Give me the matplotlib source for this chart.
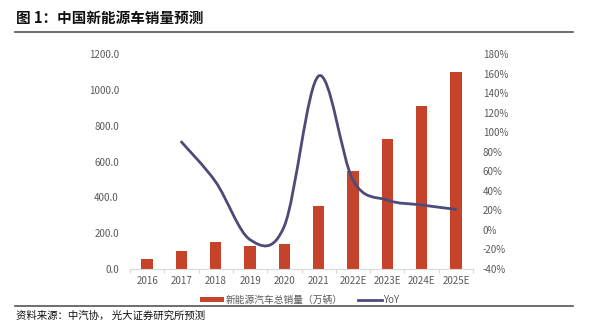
import matplotlib
matplotlib.use("Agg")
import matplotlib.pyplot as plt
from matplotlib.path import Path
from matplotlib.patches import PathPatch
from matplotlib.lines import Line2D
from matplotlib.patches import Patch
import numpy as np

plt.rcParams['font.family'] = ['Noto Sans CJK SC', 'DejaVu Sans']

categories = ["2016", "2017", "2018", "2019", "2020", "2021", "2022E", "2023E", "2024E", "2025E"]
sales = [54, 100, 149, 130, 140, 353, 549, 724, 908, 1098]
yoy_years = ["2017", "2018", "2019", "2020", "2021", "2022E", "2023E", "2024E", "2025E"]
yoy = [90, 49, -10, 4, 157.5, 51, 30.5, 25.5, 21]
left_ticks = [0, 200, 400, 600, 800, 1000, 1200]
right_ticks = [-40, -20, 0, 20, 40, 60, 80, 100, 120, 140, 160, 180]

bar_color = "#C4432A"
line_color = "#4D4B78"
tick_color = "#595959"

fig = plt.figure(figsize=(6.0, 3.33), dpi=100)
ax = fig.add_axes([130/600, 1-269/333, 343/600, 215/333])
x = np.arange(len(categories))
ax.bar(x, sales, width=0.33, color=bar_color, zorder=2)
ax.set_xlim(-0.5, len(categories)-0.5)
ax.set_ylim(0, 1200)
ax.set_yticks(left_ticks)
ax.set_yticklabels([f"{v:.1f}" for v in left_ticks])
ax.set_xticks(x)
ax.set_xticklabels(categories)
ax.set_xticks(np.arange(-0.5, len(categories)), minor=True)
ax.tick_params(axis='x', which='major', length=0, pad=5, labelsize=7, colors=tick_color)
ax.tick_params(axis='x', which='minor', length=3, color="#D9D9D9", width=0.8)
ax.tick_params(axis='y', length=0, labelsize=7, colors=tick_color, pad=8)
for s in ['top', 'right', 'left']:
    ax.spines[s].set_visible(False)
ax.spines['bottom'].set_color("#D9D9D9")

ax2 = ax.twinx()
ax2.set_ylim(-40, 180)
ax2.set_yticks(right_ticks)
ax2.set_yticklabels([f"{v}%" for v in right_ticks])
ax2.tick_params(axis='y', length=0, labelsize=7, colors=tick_color, pad=7)
for s in ['top', 'right', 'left', 'bottom']:
    ax2.spines[s].set_visible(False)

# smoothed line (Excel-style bezier through data points)
px = np.array([categories.index(c) for c in yoy_years], dtype=float)
py = np.array(yoy, dtype=float)
verts = [(px[0], py[0])]
codes = [Path.MOVETO]
n = len(px)
for i in range(n-1):
    p0 = np.array([px[max(i-1, 0)], py[max(i-1, 0)]])
    p1 = np.array([px[i], py[i]])
    p2 = np.array([px[i+1], py[i+1]])
    p3 = np.array([px[min(i+2, n-1)], py[min(i+2, n-1)]])
    c1 = p1 + (p2 - p0) / 6.0
    c2 = p2 - (p3 - p1) / 6.0
    verts += [tuple(c1), tuple(c2), tuple(p2)]
    codes += [Path.CURVE4, Path.CURVE4, Path.CURVE4]
path = Path(verts, codes)
ax2.add_patch(PathPatch(path, facecolor='none', edgecolor=line_color, lw=2.0, zorder=3, capstyle='round'))

# legend
handles = [Patch(facecolor=bar_color, edgecolor='none'),
           Line2D([0], [0], color=line_color, lw=2)]
labels = ["新能源汽车总销量（万辆）", "YoY"]
leg = fig.legend(handles, labels, loc='center', bbox_to_anchor=(300/600, 1-300/333), ncol=2,
                 frameon=False, fontsize=7, handlelength=2.4, handleheight=0.5,
                 handletextpad=0.2, columnspacing=1.6)
for t in leg.get_texts():
    t.set_color(tick_color)

# title and source
fig.text(16/600, 1-18/333, "图 1：中国新能源车销量预测", fontsize=10.5, fontweight='bold',
         va='center', ha='left', color='#111111')
fig.add_artist(Line2D([15/600, 573/600], [1-32/333, 1-32/333], color='#555555', lw=1.2))
fig.add_artist(Line2D([15/600, 573/600], [1-306/333, 1-306/333], color='#555555', lw=1.2))
fig.text(16/600, 1-316/333, "资料来源：中汽协， 光大证券研究所预测", fontsize=7.5,
         va='center', ha='left', color='#111111')

fig.savefig("out.png", dpi=100)
